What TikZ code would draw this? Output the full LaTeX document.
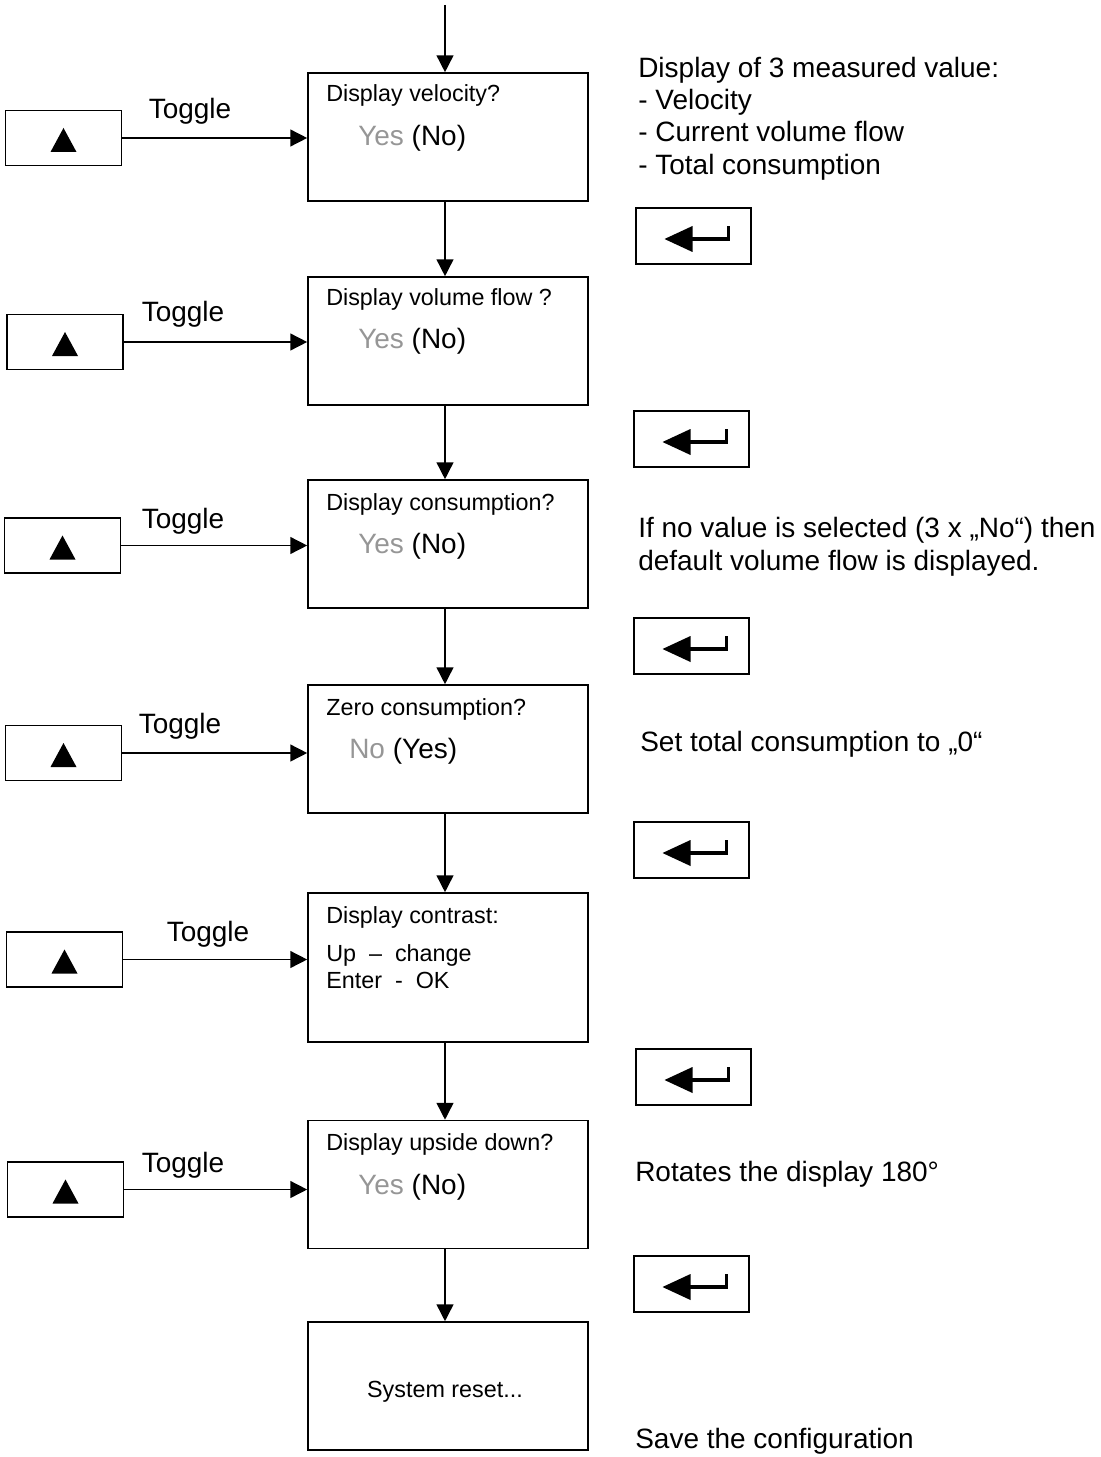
\documentclass[tikz,border=0pt]{standalone}
\usepackage{fontspec}
\setmainfont{Liberation Sans}
\usetikzlibrary{arrows.meta}
\definecolor{yesgray}{RGB}{150,150,150}
\tikzset{
  menubox/.style={draw, line width=1.1pt, minimum width=7cm, minimum height=3.2cm},
  keybox/.style={draw, line width=1.1pt, minimum width=2.9cm, minimum height=1.375cm},
  flow/.style={line width=1.1pt, -{Triangle[length=0.42cm,width=0.42cm]}},
  boxtitle/.style={inner sep=0pt, anchor=base west, font=\fontsize{16.6}{19}\selectfont},
  boxchoice/.style={inner sep=0pt, anchor=base west, font=\fontsize{19.9}{23}\selectfont},
  note/.style={inner sep=0pt, anchor=base west, font=\fontsize{19.9}{23}\selectfont},
}
% up key and enter key symbols
\newcommand{\upglyph}[1]{%
  \fill ([shift={(0,-10)}]#1.center) -- ([shift={(-13,14)}]#1.center) -- ([shift={(13,14)}]#1.center) -- cycle;}
\newcommand{\enterglyph}[1]{%
  \fill ([shift={(-29,3)}]#1.center) -- ([shift={(-1,-10)}]#1.center) -- ([shift={(-1,16)}]#1.center) -- cycle;
  \draw[line width=2.2pt] ([shift={(-3,3)}]#1.center) -- ([shift={(35,3)}]#1.center) -- ([shift={(35,-10)}]#1.center);}
\begin{document}
\begin{tikzpicture}[x=0.025cm, y=-0.025cm]
  \useasboundingbox (0,0) rectangle (1100,1457);

  % menu boxes
  \node[menubox] (m1) at (448,137) {};
  \node[menubox] (m2) at (448,341) {};
  \node[menubox] (m3) at (448,544) {};
  \node[menubox] (m4) at (448,749) {};
  \node[menubox, minimum height=3.725cm] (m5) at (448,967.5) {};
  \node[menubox] (m6) at (448,1184.5) {};
  \node[menubox] (m7) at (448,1386) {};

  \node[boxtitle] (t1) at (326,102) {Display velocity?};
  \node[boxchoice] (c1) at (358,146) {\textcolor{yesgray}{Yes} (No)};
  \node[boxtitle] (t2) at (326,306) {Display volume flow ?};
  \node[boxchoice] (c2) at (358,349) {\textcolor{yesgray}{Yes} (No)};
  \node[boxtitle] (t3) at (326,510) {Display consumption?};
  \node[boxchoice] (c3) at (358,553) {\textcolor{yesgray}{Yes} (No)};
  \node[boxtitle] (t4) at (326,715) {Zero consumption?};
  \node[boxchoice] (c4) at (349,758) {\textcolor{yesgray}{No} (Yes)};
  \node[boxtitle] (t5) at (326,923) {Display contrast:};
  \node[boxtitle] (u5) at (326,961) {Up \ -- \ change};
  \node[boxtitle] (e5) at (326,988) {Enter \ - \ OK};
  \node[boxtitle] (t6) at (326,1150) {Display upside down?};
  \node[boxchoice] (c6) at (358,1194) {\textcolor{yesgray}{Yes} (No)};
  \node[boxtitle, anchor=base] (t7) at (445,1397) {System reset...};

  % flow down
  \coordinate (start) at (445,5);
  \draw[flow] (start) -- ([shift={(-3,0)}]m1.north);
  \foreach \a/\b in {1/2,2/3,3/4,4/5,5/6,6/7}
    \draw[flow] ([shift={(-3,0)}]m\a.south) -- ([shift={(-3,0)}]m\b.north);

  % toggle keys
  \foreach \i/\x/\y/\tx/\ty in {1/63.5/138/190/119, 2/65/342/183/321, 3/62.5/545.5/183/528,
                                 4/63.5/753/180/733, 5/64.5/959.5/208/941, 6/65.5/1189.5/183/1172}{
    \node[keybox] (up\i) at (\x,\y) {};
    \upglyph{up\i}
    \node[note, anchor=base] (tg\i) at (\tx,\ty) {Toggle};
    \draw[flow] (up\i.east) -- (up\i.east -| m\i.west);
  }

  % enter keys
  \foreach \i/\x/\y in {1/693.5/236, 2/691.5/439, 3/691.5/646, 4/691.5/850, 5/693.5/1077, 6/691.5/1284}{
    \node[keybox, minimum width=2.875cm, minimum height=1.4cm] (ent\i) at (\x,\y) {};
    \enterglyph{ent\i}
  }

  % notes
  \node[note] (n1) at (638,78) {Display of 3 measured value:};
  \node[note] (n2) at (638,110) {- Velocity};
  \node[note] (n3) at (638,142) {- Current volume flow};
  \node[note] (n4) at (638,175) {- Total consumption};
  \node[note] (n5) at (638,537) {If no value is selected (3 x „No“) then};
  \node[note] (n6) at (638,570) {default volume flow is displayed.};
  \node[note] (n7) at (640,751) {Set total consumption to „0“};
  \node[note] (n8) at (635,1181) {Rotates the display 180°};
  \node[note] (n9) at (635,1448) {Save the configuration};
\end{tikzpicture}
\end{document}
